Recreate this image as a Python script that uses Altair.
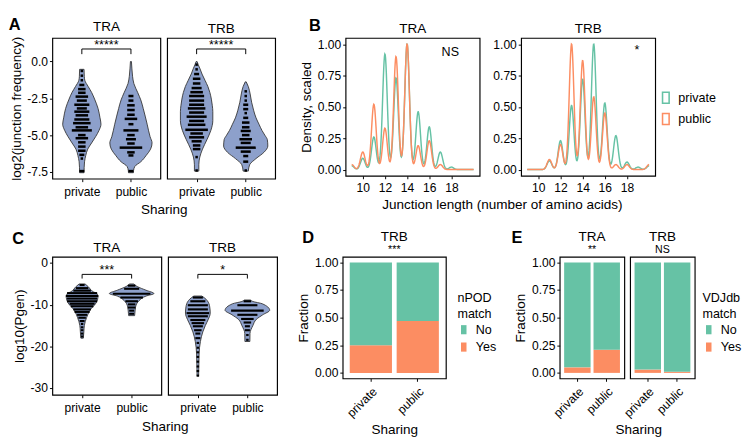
import altair as alt
import pandas as pd

FONT = "Liberation Sans"
GREEN = "#66C2A5"
ORANGE = "#FC8D62"
VIOLIN_FILL = "#8DA0CB"
SHARING = ["private", "public"]
MATCH = ["No", "Yes"]
MINUS = "replace(datum.label, '\u2212', '-')"

# ---------------- Panel A : log2(junction frequency) ----------------
A_TRA_PRIV_Y = [-0.53, -1.0, -1.27, -1.7, -2.1, -2.55, -3.18, -3.82, -4.25, -4.67, -5.1, -5.52, -5.94, -6.37, -6.8, -7.2, -7.54]
A_TRA_PRIV_W = [0.045, 0.05, 0.06, 0.13, 0.20, 0.26, 0.33, 0.37, 0.39, 0.35, 0.28, 0.20, 0.12, 0.08, 0.055, 0.047, 0.045]
A_TRA_PUB_Y = [0.0, -0.5, -1.0, -1.5, -2.12, -2.6, -3.18, -3.7, -4.25, -4.7, -5.1, -5.52, -5.94, -6.37, -6.8, -7.11, -7.4, -7.54]
A_TRA_PUB_W = [0.01, 0.02, 0.033, 0.06, 0.14, 0.20, 0.25, 0.29, 0.33, 0.36, 0.39, 0.43, 0.40, 0.31, 0.20, 0.08, 0.053, 0.05]
A_TRB_PRIV_Y = [0.0, -0.21, -0.5, -0.85, -1.27, -1.7, -2.1, -2.55, -3.0, -3.4, -4.0, -4.67, -5.3, -5.94, -6.48, -7.0, -7.43]
A_TRB_PRIV_W = [0.01, 0.033, 0.07, 0.11, 0.17, 0.23, 0.27, 0.30, 0.32, 0.33, 0.33, 0.29, 0.21, 0.12, 0.065, 0.045, 0.045]
A_TRB_PUB_Y = [-1.38, -1.7, -2.2, -2.76, -3.3, -3.82, -4.25, -4.67, -5.0, -5.3, -5.73, -6.16, -6.58, -7.0, -7.43]
A_TRB_PUB_W = [0.01, 0.053, 0.09, 0.12, 0.16, 0.21, 0.27, 0.33, 0.39, 0.44, 0.45, 0.37, 0.21, 0.08, 0.053]

A_TRA_PRIV_DOT_Y = [-0.64, -0.96, -1.27, -1.59, -1.87, -2.12, -2.38, -2.65, -2.93, -3.18, -3.40, -3.65, -3.93, -4.18, -4.46, -4.67, -4.99, -5.20, -5.48, -5.77, -6.05, -6.33, -6.58, -7.43]
A_TRA_PRIV_DOT_N = [1, 1, 1, 2, 3, 3, 5, 4, 6, 4, 6, 5, 6, 7, 5, 8, 3, 5, 3, 3, 3, 2, 1, 2]
A_TRA_PUB_DOT_Y = [-2.34, -2.65, -2.97, -3.29, -3.61, -3.89, -4.25, -4.67, -4.99, -5.27, -5.56, -5.84, -6.16, -6.37, -7.43]
A_TRA_PUB_DOT_N = [2, 2, 3, 3, 3, 5, 2, 6, 3, 4, 3, 9, 3, 2, 2]
A_TRB_PRIV_DOT_Y = [-0.21, -0.53, -0.85, -1.17, -1.49, -1.8, -2.08, -2.34, -2.65, -2.93, -3.18, -3.46, -3.74, -4.03, -4.29, -4.63, -4.88, -5.14, -5.41, -5.69, -5.94, -6.48, -7.39]
A_TRB_PRIV_DOT_N = [1, 1, 2, 3, 3, 4, 5, 6, 6, 6, 7, 6, 8, 6, 7, 9, 5, 6, 4, 3, 3, 1, 1]
A_TRB_PUB_DOT_Y = [-2.02, -2.34, -2.65, -2.93, -3.23, -3.5, -3.82, -4.14, -4.46, -4.71, -4.99, -5.27, -5.52, -5.84, -6.11, -6.41, -6.79, -7.39]
A_TRB_PUB_DOT_N = [1, 1, 1, 2, 2, 1, 2, 3, 3, 4, 3, 5, 4, 8, 4, 2, 2, 1]

A_Y_TICKS = [0.0, -2.5, -5.0, -7.5]
A_STARS = ["*****", "*****"]          # TRA, TRB
A_BRACKET = [0.85, 0.5, 1.12]         # bar level, tip level, star level

# ---------------- Panel B : junction length density ----------------
LENGTHS = [9, 10, 11, 12, 13, 14, 15, 16, 17, 18, 19, 20]
B_TRA_PRIV = [3, 9, 26, 92, 73, 100, 46, 34, 14, 2, 0, 0]
B_TRA_PUB = [4, 14, 52, 33, 90, 100, 19, 23, 4, 0, 0, 0]
B_TRB_PRIV = [0, 0, 7, 23, 51, 72, 100, 53, 27, 6, 2, 3]
B_TRB_PUB = [0, 0, 8, 20, 100, 87, 58, 45, 4, 4, 0, 4]
B_X_TICKS = [10, 12, 14, 16, 18]
B_Y_TICKS = [0.0, 0.25, 0.5, 0.75, 1.0]
B_NOTES = ["NS", "*"]
B_NOTE_X = [17.9, 18.9]
B_NOTE_Y = [0.94, 0.95]

# ---------------- Panel C : log10(Pgen) ----------------
C_TRA_PRIV_Y = [-5.0, -5.6, -6.9, -7.3, -8.2, -9.4, -11.3, -13.1, -15.0, -16.5, -18.0]
C_TRA_PRIV_W = [0.06, 0.12, 0.23, 0.30, 0.32, 0.29, 0.16, 0.09, 0.045, 0.035, 0.025]
C_TRA_PUB_Y = [-5.0, -5.6, -6.5, -7.3, -7.9, -9.0, -10.5, -12.0, -12.6]
C_TRA_PUB_W = [0.04, 0.11, 0.29, 0.45, 0.29, 0.15, 0.08, 0.065, 0.06]
C_TRB_PRIV_Y = [-7.9, -8.3, -9.0, -10.5, -12.0, -13.5, -15.0, -16.5, -18.8, -21.8, -24.5, -27.0]
C_TRB_PRIV_W = [0.08, 0.13, 0.19, 0.24, 0.25, 0.21, 0.15, 0.10, 0.052, 0.025, 0.02, 0.016]
C_TRB_PUB_Y = [-8.85, -9.2, -9.75, -11.3, -12.4, -13.5, -15.0, -16.9, -18.8]
C_TRB_PUB_W = [0.06, 0.11, 0.30, 0.45, 0.31, 0.18, 0.11, 0.052, 0.05]

C_TRA_PRIV_DOT_Y = [-5.25, -6.0, -6.6, -7.2, -7.9, -8.5, -9.15, -9.75, -10.35, -11.1, -11.7, -12.4, -13.1, -13.9, -14.6, -15.4, -16.1, -16.9, -17.6]
C_TRA_PRIV_DOT_N = [2, 5, 7, 12, 13, 12, 12, 10, 9, 7, 6, 4, 3, 2, 1, 1, 1, 1, 1]
C_TRA_PUB_DOT_Y = [-5.4, -6.15, -7.35, -8.25, -9.15, -9.9, -10.65, -11.4, -12.15]
C_TRA_PUB_DOT_N = [3, 6, 15, 9, 5, 3, 3, 2, 2]
C_TRB_PRIV_DOT_Y = [-8.25, -9.15, -10.1, -11.1, -12.0, -12.75, -13.65, -14.4, -15.15, -16.1, -16.9, -18.0, -19.15, -20.3, -21.4, -22.5, -23.65, -24.8, -25.9, -27.0]
C_TRB_PRIV_DOT_N = [4, 6, 8, 8, 9, 8, 6, 5, 4, 3, 2, 2, 1, 1, 1, 1, 1, 1, 1, 1]
C_TRB_PUB_DOT_Y = [-9.15, -10.1, -11.4, -12.4, -13.4, -14.25, -15.15, -16.1, -17.25, -18.4]
C_TRB_PUB_DOT_N = [3, 8, 13, 8, 5, 3, 2, 2, 1, 1]

C_Y_TICKS = [0, -10, -20, -30]
C_STARS = ["***", "*"]
C_BRACKET = [-2.7, -3.7, -1.6]

# ---------------- Panels D, E : fraction matched ----------------
D_TRB_YES = [0.25, 0.47]
D_TRB_NO = [0.75, 0.53]
E_TRA_YES = [0.05, 0.21]
E_TRA_NO = [0.95, 0.79]
E_TRB_YES = [0.03, 0.01]
E_TRB_NO = [0.97, 0.99]
FRAC_TICKS = [0.0, 0.25, 0.5, 0.75, 1.0]

KEY_RECT = "M-0.6,-1H0.6V1H-0.6Z"
TICK_FS = 12.5
TITLE_FS = 14


def letter_title(letter, offset, dx=0):
    return alt.Title(letter, anchor="start", fontSize=17, fontWeight="bold", offset=offset, dx=dx)


def violin_panel(vspec, dspec, ydom, yvals, yfmt, title, ytitle, show_y, stars, brk,
                 dot_w, dot_px, width, height, xtitle=None, xtitle_x=None):
    vrec, drec = [], []
    for g, c, ys, ws in vspec:
        for y, w in zip(ys, ws):
            vrec.append({"g": g, "y": y, "lo": c - w, "hi": c + w})
    for g, c, ys, ns in dspec:
        for y, n in zip(ys, ns):
            drec.append({"g": g, "y": y, "lo": c - n * dot_w / 2, "hi": c + n * dot_w / 2})
    vdf, ddf = pd.DataFrame(vrec), pd.DataFrame(drec)
    bdf = pd.DataFrame({"x": [1, 1, 2], "x2": [2, 1, 2],
                        "y": [brk[0], brk[1], brk[1]], "y2": [brk[0], brk[0], brk[0]]})
    sdf = pd.DataFrame({"x": [1.5], "y": [brk[2]], "t": [stars]})

    xs = alt.Scale(domain=[0.4, 2.6], nice=False, zero=False)
    ys = alt.Scale(domain=ydom, nice=False, zero=False)
    xkw = dict(values=[1, 2], labelExpr="datum.value == 1 ? 'private' : 'public'",
               tickSize=3, labelPadding=4, title=xtitle, titlePadding=6)
    if xtitle_x is not None:
        xkw["titleX"] = xtitle_x
    xax = alt.Axis(**xkw)
    yax = alt.Axis(values=yvals, format=yfmt, labelExpr=MINUS, tickSize=3, labelPadding=2,
                   title=ytitle, titlePadding=4) if show_y else None

    def X(f):
        return alt.X(f, type="quantitative", scale=xs, axis=xax)

    def Y(f):
        return alt.Y(f, type="quantitative", scale=ys, axis=yax)

    vio = alt.Chart(vdf).mark_area(orient="horizontal", interpolate="monotone", fill=VIOLIN_FILL,
                                   stroke="#333333", strokeWidth=0.9).encode(
        y=Y("y"), x=X("lo"), x2="hi", detail="g:N")
    dots = alt.Chart(ddf).mark_rule(color="black", strokeWidth=dot_px, strokeCap="butt").encode(
        y=Y("y"), x=X("lo"), x2="hi")
    br = alt.Chart(bdf).mark_rule(color="black", strokeWidth=1).encode(
        x=X("x"), x2="x2", y=Y("y"), y2="y2")
    st = alt.Chart(sdf).mark_text(fontSize=13, baseline="middle", font=FONT, color="black").encode(
        x=X("x"), y=Y("y"), text="t:N")
    return alt.layer(vio, dots, br, st).properties(width=width, height=height,
                                                   title=alt.Title(title, offset=2))


def density_panel(priv, pub, title, show_ytitle, note, note_x, note_y, legend,
                  width, height, xtitle=None, xtitle_x=None):
    recs = []
    for g, counts in (("private", priv), ("public", pub)):
        for L, c in zip(LENGTHS, counts):
            recs += [{"sharing": g, "len": L}] * c
    df = pd.DataFrame(recs)
    xs = alt.Scale(domain=[8.45, 20.55], nice=False, zero=False)
    ys = alt.Scale(domain=[-0.05, 1.05], nice=False, zero=False)
    xkw = dict(values=B_X_TICKS, tickSize=3, labelPadding=3, title=xtitle, titlePadding=4)
    if xtitle_x is not None:
        xkw["titleX"] = xtitle_x
    xax = alt.Axis(**xkw)
    yax = alt.Axis(values=B_Y_TICKS, format=".2f", tickSize=3, labelPadding=2,
                   title="Density, scaled" if show_ytitle else None, titlePadding=4)

    line = alt.Chart(df).transform_density(
        "len", groupby=["sharing"], bandwidth=0.21, extent=[9, 20], steps=331, as_=["len", "density"]
    ).transform_joinaggregate(mx="max(density)", groupby=["sharing"]).transform_calculate(
        scaled="datum.density / datum.mx"
    ).mark_line(strokeWidth=1.5).encode(
        x=alt.X("len:Q", scale=xs, axis=xax),
        y=alt.Y("scaled:Q", scale=ys, axis=yax),
        color=alt.Color("sharing:N", scale=alt.Scale(domain=SHARING, range=[GREEN, ORANGE]), legend=legend),
    )
    ndf = pd.DataFrame({"x": [note_x], "y": [note_y], "t": [note]})
    txt = alt.Chart(ndf).mark_text(fontSize=13, font=FONT, color="black", baseline="middle").encode(
        x=alt.X("x:Q", scale=xs, axis=xax), y=alt.Y("y:Q", scale=ys, axis=yax), text="t:N")
    return alt.layer(line, txt).properties(width=width, height=height, title=alt.Title(title, offset=2))


def bar_panel(yes, no, title, subtitle, show_y, legend, width, height,
              xtitle=None, xtitle_x=None):
    df = pd.DataFrame({"sharing": SHARING * 2, "match": ["Yes", "Yes", "No", "No"],
                       "frac": list(yes) + list(no), "ord": [0, 0, 1, 1]})
    xkw = dict(labelAngle=-45, tickSize=3, labelPadding=4, title=xtitle, titlePadding=4)
    if xtitle_x is not None:
        xkw["titleX"] = xtitle_x
    yax = alt.Axis(values=FRAC_TICKS, format=".2f", tickSize=3, labelPadding=2,
                   title="Fraction", titlePadding=4) if show_y else None
    bars = alt.Chart(df).mark_bar().encode(
        x=alt.X("sharing:N", sort=SHARING,
                scale=alt.Scale(domain=SHARING, paddingInner=0.1, paddingOuter=0.15),
                axis=alt.Axis(**xkw)),
        y=alt.Y("frac:Q", stack="zero", scale=alt.Scale(domain=[-0.05, 1.05], nice=False, zero=False),
                axis=yax),
        color=alt.Color("match:N", scale=alt.Scale(domain=MATCH, range=[GREEN, ORANGE]), legend=legend),
        order=alt.Order("ord:Q"),
    )
    return bars.properties(
        width=width, height=height,
        title=alt.Title(title, subtitle=subtitle, offset=2, subtitleFontSize=11, subtitlePadding=0))


def match_legend(first, second, lx, ly):
    return alt.Legend(title=[first, second], orient="none", legendX=lx, legendY=ly,
                      symbolType=KEY_RECT, symbolSize=90, symbolStrokeWidth=0,
                      labelFontSize=13, titleFontSize=13, titleFontWeight="normal",
                      titleLineHeight=16, rowPadding=4, labelOffset=6, titlePadding=3)


# ---------- build panels ----------
A_W, A_H = 112, 146
A_DOT = 0.051
a_tra = violin_panel(
    [("private", 1, A_TRA_PRIV_Y, A_TRA_PRIV_W), ("public", 2, A_TRA_PUB_Y, A_TRA_PUB_W)],
    [("private", 1, A_TRA_PRIV_DOT_Y, A_TRA_PRIV_DOT_N), ("public", 2, A_TRA_PUB_DOT_Y, A_TRA_PUB_DOT_N)],
    [-7.95, 1.6], A_Y_TICKS, ".1f", "TRA", "log2(junction frequency)", True, A_STARS[0], A_BRACKET,
    A_DOT, 2.6, A_W, A_H, xtitle="Sharing", xtitle_x=115.5)
a_trb = violin_panel(
    [("private", 1, A_TRB_PRIV_Y, A_TRB_PRIV_W), ("public", 2, A_TRB_PUB_Y, A_TRB_PUB_W)],
    [("private", 1, A_TRB_PRIV_DOT_Y, A_TRB_PRIV_DOT_N), ("public", 2, A_TRB_PUB_DOT_Y, A_TRB_PUB_DOT_N)],
    [-7.95, 1.6], A_Y_TICKS, ".1f", "TRB", None, False, A_STARS[1], A_BRACKET,
    A_DOT, 2.6, A_W, A_H)

B_W, B_H = 139, 143
b_legend = alt.Legend(title=None, orient="none", legendX=B_W + 4, legendY=55,
                      symbolType=KEY_RECT, symbolSize=130, symbolStrokeWidth=1.6,
                      labelFontSize=13, rowPadding=4, labelOffset=6)
b_tra = density_panel(B_TRA_PRIV, B_TRA_PUB, "TRA", True, B_NOTES[0], B_NOTE_X[0], B_NOTE_Y[0], None,
                      B_W, B_H, xtitle="Junction length (number of amino acids)", xtitle_x=162)
b_trb = density_panel(B_TRB_PRIV, B_TRB_PUB, "TRB", False, B_NOTES[1], B_NOTE_X[1], B_NOTE_Y[1], b_legend,
                      B_W, B_H)

C_W, C_H = 113, 143
C_DOT = 0.0506
c_tra = violin_panel(
    [("private", 1, C_TRA_PRIV_Y, C_TRA_PRIV_W), ("public", 2, C_TRA_PUB_Y, C_TRA_PUB_W)],
    [("private", 1, C_TRA_PRIV_DOT_Y, C_TRA_PRIV_DOT_N), ("public", 2, C_TRA_PUB_DOT_Y, C_TRA_PUB_DOT_N)],
    [-31.6, 1.5], C_Y_TICKS, "d", "TRA", "log10(Pgen)", True, C_STARS[0], C_BRACKET,
    C_DOT, 2.2, C_W, C_H, xtitle="Sharing", xtitle_x=116.5)
c_trb = violin_panel(
    [("private", 1, C_TRB_PRIV_Y, C_TRB_PRIV_W), ("public", 2, C_TRB_PUB_Y, C_TRB_PUB_W)],
    [("private", 1, C_TRB_PRIV_DOT_Y, C_TRB_PRIV_DOT_N), ("public", 2, C_TRB_PUB_DOT_Y, C_TRB_PUB_DOT_N)],
    [-31.6, 1.5], C_Y_TICKS, "d", "TRB", None, False, C_STARS[1], C_BRACKET,
    C_DOT, 2.2, C_W, C_H)

D_W, D_H = 107, 126
d_trb = bar_panel(D_TRB_YES, D_TRB_NO, "TRB", "***", True, match_legend("nPOD", "match", D_W + 12, 37),
                  D_W, D_H, xtitle="Sharing")

E_W, E_H = 67, 126
e_tra = bar_panel(E_TRA_YES, E_TRA_NO, "TRA", "**", True, None, E_W, E_H,
                  xtitle="Sharing", xtitle_x=81.5)
e_trb = bar_panel(E_TRB_YES, E_TRB_NO, "TRB", "NS", False, match_legend("VDJdb", "match", E_W + 8, 37),
                  E_W, E_H)

# ---------- layout ----------
group_a = alt.hconcat(a_tra, a_trb, spacing=7, bounds="flush", title=letter_title("A", -14))
group_b = alt.hconcat(b_tra, b_trb, spacing=43, bounds="flush",
                      title=letter_title("B", -13, dx=10)).resolve_scale(color="independent")
row1 = alt.hconcat(group_a, group_b, spacing=24).resolve_scale(color="independent")

group_c = alt.hconcat(c_tra, c_trb, spacing=7, bounds="flush", title=letter_title("C", -7))
group_d = alt.hconcat(d_trb, title=letter_title("D", -17, dx=6))
group_e = alt.hconcat(e_tra, e_trb, spacing=6, bounds="flush",
                      title=letter_title("E", -17, dx=-2)).resolve_scale(color="independent")
group_de = alt.hconcat(group_d, group_e, spacing=15).resolve_scale(color="independent")
row2 = alt.hconcat(group_c, group_de, spacing=19).resolve_scale(color="independent")

chart = alt.vconcat(row1, row2, spacing=11).resolve_scale(color="independent").properties(
    padding=0
).configure(font=FONT).configure_view(stroke="black", strokeWidth=1.2).configure_axis(
    labelFont=FONT, titleFont=FONT, labelColor="black", titleColor="black", tickColor="black",
    domain=False, grid=False, labelFontSize=TICK_FS, titleFontSize=TITLE_FS, titleFontWeight="normal"
).configure_title(
    font=FONT, fontSize=14, fontWeight="normal", color="black", subtitleColor="black", subtitleFont=FONT
).configure_legend(labelFont=FONT, titleFont=FONT, labelColor="black", titleColor="black")

chart.save("out.html", embed_options={"renderer": "svg", "actions": False})
